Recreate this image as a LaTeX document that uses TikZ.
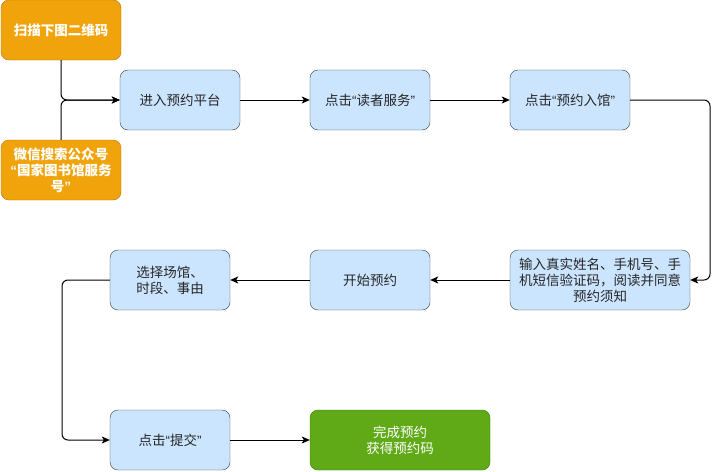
\documentclass[tikz,border=0pt]{standalone}
\usepackage{fontspec}
\setmainfont{Noto Sans CJK SC}
\newfontfamily\quotefont{Liberation Sans}
\usetikzlibrary{calc}
\usetikzlibrary{shapes,arrows,arrows.meta}

\newcommand{\oq}{{\quotefont “}}
\newcommand{\cq}{{\quotefont ”}}

\definecolor{orfill}{HTML}{F0A30A}
\definecolor{ordraw}{HTML}{BD7000}
\definecolor{blfill}{HTML}{CCE5FF}
\definecolor{bldraw}{HTML}{36393D}
\definecolor{grfill}{HTML}{60A917}
\definecolor{grdraw}{HTML}{2D7600}

\tikzset{
  box/.style={rectangle, rounded corners=8pt, minimum width=120pt, minimum height=60pt,
    inner sep=2pt, align=center, font=\fontsize{13.5}{16}\selectfont},
  orbox/.style={box, fill=orfill, draw=ordraw, text=white, font=\fontsize{13.5}{16}\selectfont\bfseries},
  blbox/.style={box, fill=blfill, draw=bldraw, text=black!85},
  grbox/.style={box, fill=grfill, draw=grdraw, text=white},
  arr/.style={-{Stealth[length=8pt, width=7pt, inset=2pt]}, line width=1pt, rounded corners=6pt}
}

\begin{document}
\begin{tikzpicture}[x=1pt, y=-1pt]
    \useasboundingbox (0,0) rectangle (719,471);

    \coordinate (A0) at (61,30);
    \coordinate (A1) at (61,170);
    \coordinate (A2) at (180,100);
    \coordinate (A3) at (370,100);
    \coordinate (A4) at (570,100);
    \coordinate (A5) at (600,280);
    \coordinate (A6) at (370,280);
    \coordinate (A7) at (170,280);
    \coordinate (A8) at (170,440);
    \coordinate (A9) at (400,440);
    \coordinate (R1) at (710,190);
    \coordinate (L1) at (62,360);

    \node [orbox] (scan) at (A0) {扫描下图二维码};
    \node [orbox] (wechat) at (A1) {微信搜索公众号\\\oq 国家图书馆服务\\号\cq};
    \node [blbox] (enter) at (A2) {进入预约平台};
    \node [blbox] (reader) at (A3) {点击\oq 读者服务\cq};
    \node [blbox] (visit) at (A4) {点击\oq 预约入馆\cq};
    \node [blbox, minimum width=180pt] (input) at (A5) {输入真实姓名、手机号、手\\机短信验证码，阅读并同意\\预约须知};
    \node [blbox] (start) at (A6) {开始预约};
    \node [blbox] (choose) at (A7) {选择场馆、\\时段、事由};
    \node [blbox] (submit) at (A8) {点击\oq 提交\cq};
    \node [grbox, minimum width=180pt] (done) at (A9) {完成预约\\获得预约码};

    \draw [arr] (scan.south) |- (enter.west);
    \draw [arr] (wechat.north) |- (enter.west);
    \draw [arr] (enter) -- (reader);
    \draw [arr] (reader) -- (visit);
    \draw [arr] (visit.east) -| (R1) |- (input.east);
    \draw [arr] (input) -- (start);
    \draw [arr] (start) -- (choose);
    \draw [arr] (choose.west) -| (L1) |- (submit.west);
    \draw [arr] (submit) -- (done);
  \end{tikzpicture}
\end{document}
